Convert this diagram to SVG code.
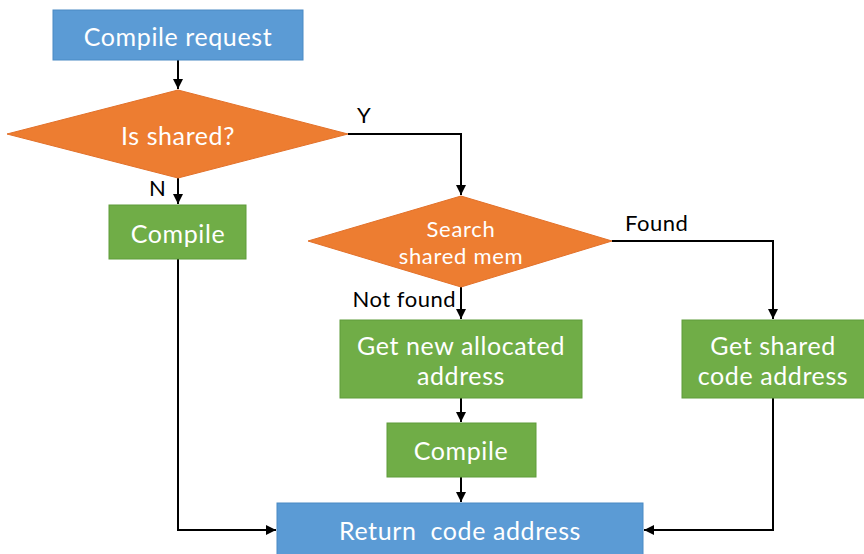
<svg xmlns="http://www.w3.org/2000/svg" width="864" height="554" viewBox="0 0 864 554">
  <style>
    .blue { fill: #5B9BD5; stroke: #4A8AC4; stroke-width: 1; }
    .orange { fill: #ED7D31; stroke: #E2712A; stroke-width: 1; }
    .green { fill: #70AD47; stroke: #5F9C3A; stroke-width: 1; }
    .t { font-family: Lato, "Open Sans", sans-serif; font-size: 25px; letter-spacing: 0.6px; fill: #FFFFFF; text-anchor: middle; dominant-baseline: central; }
    .ts { font-family: Lato, "Open Sans", sans-serif; font-size: 22px; letter-spacing: 0.7px; fill: #FFFFFF; text-anchor: middle; dominant-baseline: central; }
    .lbl { font-family: Lato, "Open Sans", sans-serif; font-size: 22px; letter-spacing: 0.5px; fill: #000000; dominant-baseline: central; }
    .c { fill: none; stroke: #000000; stroke-width: 2; }
  </style>
  <defs>
    <marker id="arr" viewBox="0 0 10 10" refX="10" refY="5" markerWidth="5" markerHeight="5" orient="auto" markerUnits="strokeWidth">
      <path d="M0,0 L10,5 L0,10 z" fill="#000000"/>
    </marker>
  </defs>
  <rect width="864" height="554" fill="#FFFFFF"/>

  <g id="connectors">
    <path class="c" d="M178,60 V89" marker-end="url(#arr)"/>
    <path class="c" d="M348,134 H461 V195" marker-end="url(#arr)"/>
    <path class="c" d="M178,178 V204" marker-end="url(#arr)"/>
    <path class="c" d="M178,259 V530 H276" marker-end="url(#arr)"/>
    <path class="c" d="M612,241 H773 V319" marker-end="url(#arr)"/>
    <path class="c" d="M461,287 V319" marker-end="url(#arr)"/>
    <path class="c" d="M461,398 V422" marker-end="url(#arr)"/>
    <path class="c" d="M461,477 V502" marker-end="url(#arr)"/>
    <path class="c" d="M773,398 V530 H644" marker-end="url(#arr)"/>
    <text class="lbl" x="357" y="114">Y</text>
    <text class="lbl" x="149" y="187">N</text>
    <text class="lbl" x="625" y="222">Found</text>
    <text class="lbl" x="456" y="298" text-anchor="end">Not found</text>
  </g>

  <g id="compile-request">
    <rect class="blue" x="53" y="10" width="250" height="50"/>
    <text class="t" x="178" y="36">Compile request</text>
  </g>

  <g id="is-shared">
    <polygon class="orange" points="178,90 348,134 178,178 7,134"/>
    <text class="t" x="178" y="135">Is shared?</text>
  </g>

  <g id="compile-direct">
    <rect class="green" x="109" y="205" width="137" height="54"/>
    <text class="t" x="178" y="233">Compile</text>
  </g>

  <g id="search-shared">
    <polygon class="orange" points="461,196 612,241 461,287 308,241"/>
    <text class="ts" x="461" y="228">Search</text>
    <text class="ts" x="461" y="255">shared mem</text>
  </g>

  <g id="get-new-address">
    <rect class="green" x="340" y="320" width="242" height="78"/>
    <text class="t" x="461" y="345">Get new allocated</text>
    <text class="t" x="461" y="375">address</text>
  </g>

  <g id="get-shared-address">
    <rect class="green" x="682" y="320" width="186" height="78"/>
    <text class="t" x="773" y="345">Get shared</text>
    <text class="t" x="773" y="375">code address</text>
  </g>

  <g id="compile-new">
    <rect class="green" x="387" y="423" width="149" height="54"/>
    <text class="t" x="461" y="450">Compile</text>
  </g>

  <g id="return-address">
    <rect class="blue" x="277" y="503" width="366" height="56"/>
    <text class="t" x="460" y="530" xml:space="preserve">Return  code address</text>
  </g>
</svg>
